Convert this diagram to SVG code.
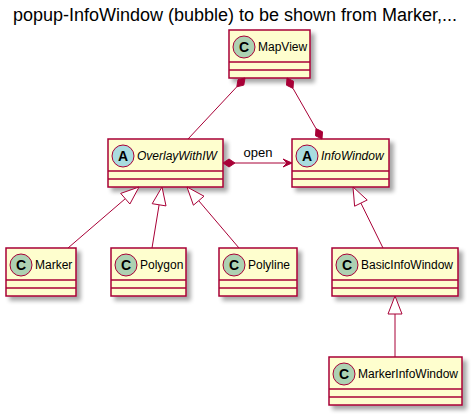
<svg xmlns="http://www.w3.org/2000/svg" width="473" height="416" viewBox="0 0 473 416">
<defs>
<filter id="sh" x="-20%" y="-20%" width="150%" height="160%">
<feGaussianBlur in="SourceAlpha" stdDeviation="2"/>
<feOffset dx="4" dy="4" result="b"/>
<feComponentTransfer><feFuncA type="linear" slope="0.35"/></feComponentTransfer>
<feMerge><feMergeNode/><feMergeNode in="SourceGraphic"/></feMerge>
</filter>
</defs>
<style>
.box{fill:#FEFECE;stroke:#A80036;stroke-width:1.5}
.sep{stroke:#A80036;stroke-width:1.5}
.ci{stroke:#A80036;stroke-width:1}
.cc{fill:#ADD1B2}
.ca{fill:#A9DCDF}
.lt{font-family:"Liberation Sans",Arial,sans-serif;font-size:14px;font-weight:bold;fill:#000;text-anchor:middle}
.nm{font-family:"Liberation Sans",Arial,sans-serif;font-size:12px;fill:#000}
.it{font-style:italic}
.ln{stroke:#A80036;stroke-width:1;fill:none}
.fd{fill:#A80036;stroke:#A80036;stroke-width:1}
.ht{fill:#FFFFFF;stroke:#A80036;stroke-width:1}
.lb{font-family:"Liberation Sans",Arial,sans-serif;font-size:13px;fill:#000;text-anchor:middle}
.title{font-family:"Liberation Sans",Arial,sans-serif;font-size:18px;fill:#000;text-anchor:middle}
</style>
<text class="title" x="235" y="21">popup-InfoWindow (bubble) to be shown from Marker,...</text>

<g id="MapView">
<rect class="box" x="229" y="30" width="81" height="48" filter="url(#sh)"/>
<line class="sep" x1="229" y1="62" x2="310" y2="62"/>
<line class="sep" x1="229" y1="70" x2="310" y2="70"/>
<circle class="ci cc" cx="244" cy="47" r="11"/>
<text class="lt" x="244" y="52">C</text>
<text class="nm" x="258" y="51">MapView</text>
</g>

<g id="OverlayWithIW">
<rect class="box" x="108" y="139" width="115" height="48" filter="url(#sh)"/>
<line class="sep" x1="108" y1="171" x2="223" y2="171"/>
<line class="sep" x1="108" y1="179" x2="223" y2="179"/>
<circle class="ci ca" cx="123" cy="156" r="11"/>
<text class="lt" x="123" y="161">A</text>
<text class="nm it" x="137" y="160">OverlayWithIW</text>
</g>

<g id="InfoWindow">
<rect class="box" x="292" y="139" width="97" height="48" filter="url(#sh)"/>
<line class="sep" x1="292" y1="171" x2="389" y2="171"/>
<line class="sep" x1="292" y1="179" x2="389" y2="179"/>
<circle class="ci ca" cx="307" cy="156" r="11"/>
<text class="lt" x="307" y="161">A</text>
<text class="nm it" x="321" y="160">InfoWindow</text>
</g>

<g id="Marker">
<rect class="box" x="6" y="248" width="70" height="48" filter="url(#sh)"/>
<line class="sep" x1="6" y1="280" x2="76" y2="280"/>
<line class="sep" x1="6" y1="288" x2="76" y2="288"/>
<circle class="ci cc" cx="21" cy="265" r="11"/>
<text class="lt" x="21" y="270">C</text>
<text class="nm" x="35" y="269">Marker</text>
</g>

<g id="Polygon">
<rect class="box" x="111" y="248" width="75" height="48" filter="url(#sh)"/>
<line class="sep" x1="111" y1="280" x2="186" y2="280"/>
<line class="sep" x1="111" y1="288" x2="186" y2="288"/>
<circle class="ci cc" cx="126" cy="265" r="11"/>
<text class="lt" x="126" y="270">C</text>
<text class="nm" x="140" y="269">Polygon</text>
</g>

<g id="Polyline">
<rect class="box" x="219" y="248" width="78" height="48" filter="url(#sh)"/>
<line class="sep" x1="219" y1="280" x2="297" y2="280"/>
<line class="sep" x1="219" y1="288" x2="297" y2="288"/>
<circle class="ci cc" cx="234" cy="265" r="11"/>
<text class="lt" x="234" y="270">C</text>
<text class="nm" x="248" y="269">Polyline</text>
</g>

<g id="BasicInfoWindow">
<rect class="box" x="332" y="248" width="126" height="48" filter="url(#sh)"/>
<line class="sep" x1="332" y1="280" x2="458" y2="280"/>
<line class="sep" x1="332" y1="288" x2="458" y2="288"/>
<circle class="ci cc" cx="347" cy="265" r="11"/>
<text class="lt" x="347" y="270">C</text>
<text class="nm" x="361" y="269">BasicInfoWindow</text>
</g>

<g id="MarkerInfoWindow">
<rect class="box" x="329" y="357" width="133" height="48" filter="url(#sh)"/>
<line class="sep" x1="329" y1="389" x2="462" y2="389"/>
<line class="sep" x1="329" y1="397" x2="462" y2="397"/>
<circle class="ci cc" cx="344" cy="374" r="11"/>
<text class="lt" x="344" y="379">C</text>
<text class="nm" x="358" y="378">MarkerInfoWindow</text>
</g>

<g id="connectors">
<polygon class="fd" points="245,78 243.8,85.1 236.8,86.8 238.0,79.7"/>
<line class="ln" x1="236.8" y1="86.8" x2="188" y2="139"/>
<polygon class="fd" points="287,78 293.5,81.2 293.0,88.4 286.5,85.2"/>
<line class="ln" x1="293" y1="88.4" x2="316" y2="128.6"/>
<polygon class="fd" points="322,139 315.5,135.8 316.0,128.6 322.5,131.8"/>
<polygon class="fd" points="223,163 229,159 235,163 229,167"/>
<line class="ln" x1="235" y1="163" x2="290" y2="163"/>
<polygon class="fd" points="292,163 283,159 287,163 283,167"/>
<text class="lb" x="258" y="157">open</text>
<line class="ln" x1="125.3" y1="198.7" x2="68" y2="248"/>
<polygon class="ht" points="139,187 129.9,204.0 120.7,193.4"/>
<line class="ln" x1="159.1" y1="204.8" x2="152" y2="248"/>
<polygon class="ht" points="162,187 166.0,205.9 152.2,203.7"/>
<line class="ln" x1="198.7" y1="200.7" x2="239" y2="248"/>
<polygon class="ht" points="187,187 204.0,196.2 193.4,205.2"/>
<line class="ln" x1="360.9" y1="203.1" x2="383" y2="248"/>
<polygon class="ht" points="353,187 367.2,200.0 354.6,206.2"/>
<line class="ln" x1="395" y1="314" x2="395" y2="357"/>
<polygon class="ht" points="395,296 402,314 388,314"/>
</g>
</svg>
